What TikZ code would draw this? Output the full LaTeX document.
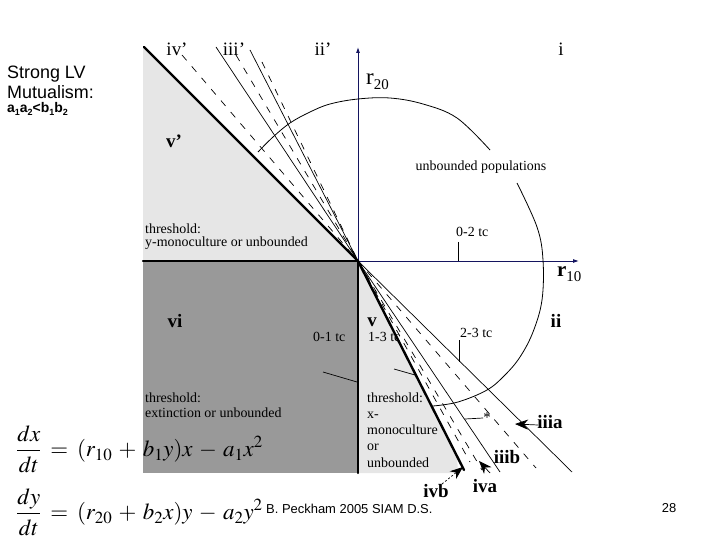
\documentclass[tikz,border=0pt]{standalone}
\usepackage{mathptmx}
\usepackage[no-math]{fontspec}
\setmainfont{Liberation Serif}
\newfontfamily\arial{Liberation Sans}
\usetikzlibrary{arrows.meta}
\definecolor{lightg}{RGB}{230,230,230}
\definecolor{darkg}{RGB}{153,153,153}
\definecolor{navy}{RGB}{20,20,95}
\tikzset{
  lab/.style={font=\fontsize{19}{19}\selectfont, inner sep=0pt, anchor=base},
  blab/.style={font=\fontsize{19}{19}\selectfont\bfseries, inner sep=0pt, anchor=base},
  small/.style={font=\fontsize{14}{14}\selectfont, inner sep=0pt, anchor=base west},
  thickline/.style={line width=2.4bp, line cap=round},
  thinline/.style={line width=0.7bp},
  dashline/.style={line width=0.7bp, dash pattern=on 7bp off 8bp},
  axisline/.style={draw=navy, line width=0.9bp, -{Latex[length=6bp,width=4bp]}},
  pointer/.style={line width=0.7bp, -{Stealth[length=13bp,width=10bp]}},
  eqn/.style={inner sep=0pt, anchor=west, font=\fontsize{23}{27}\selectfont},
}
\begin{document}
\begin{tikzpicture}[x=1bp, y=-1bp]
\useasboundingbox (0,0) rectangle (720,540);
% key points
\coordinate (O) at (358,261);
\coordinate (L1u) at (144,47);  \coordinate (L1d) at (572,472);
\coordinate (L2u) at (182,55);  \coordinate (L2d) at (536,468);
\coordinate (L3u) at (216,47);  \coordinate (L3d) at (500,472);
\coordinate (L4u) at (236,55);  \coordinate (L4d) at (482,470);
\coordinate (L5u) at (250,50);  \coordinate (L5d) at (464,470);
\coordinate (L6u) at (262,62);  \coordinate (L6d) at (470,462);
% regions
\fill[lightg] (143,47) -- (O) -- (143,261) -- cycle;
\fill[darkg] (143,261) rectangle (358,473);
\fill[lightg] (O) -- (358,473) -- (458,473) -- (457,455) -- cycle;
% axes
\draw[axisline] (O) -- (358,47);
\draw[axisline] (O) -- (579,261);
% lines through origin
\draw[thickline] (L1u) -- (O);
\draw[thinline] (O) -- (L1d);
\draw[dashline] (L2u) -- (O) -- (L2d);
\draw[thinline] (L3u) -- (O) -- (L3d);
\draw[dashline] (L4u) -- (O) -- (L4d);
\draw[thinline] (L5u) -- (O);
\draw[thickline] (O) -- (L5d);
\draw[dashline] (L6u) -- (O) -- (L6d);
% region borders
\draw[thickline] (143,261) -- (O) -- (358,473);
% circle-like arc
\draw[line width=0.8bp] plot[smooth, tension=0.6] coordinates {(258,152) (273,137) (290,123) (310,112) (330,104) (358,99) (390,98) (423,104) (457,118) (490,150)};
\draw[line width=0.8bp] plot[smooth, tension=0.6] coordinates {(517,183) (537,227) (543,260) (542,300) (533,332) (520,357) (505,375) (487,390) (458,402) (433,406)};
% top labels
\node[lab] (ivp) at (177,56) {iv’};
\node[lab] (iiip) at (234,56) {iii’};
\node[lab] (iip) at (323,56) {ii’};
\node[lab] (i) at (561,56) {i};
\node[blab] (vp) at (174,148) {v’};
\node[blab] (vi) at (175,327) {vi};
\node[blab] (v) at (372,326) {v};
\node[blab] (ii) at (556,327) {ii};
\node[blab] (iiib) at (507,463) {iiib};
\node[blab] (iiia) at (550,428) {iiia};
\node[blab] (iva) at (485,492) {iva};
\node[blab] (ivb) at (436,497) {ivb};
% axis labels
\node[inner sep=0pt, anchor=base west] (r20) at (366,85) {{\fontsize{23}{23}\selectfont r}\raisebox{-5bp}{\fontsize{15}{15}\selectfont 20}};
\node[inner sep=0pt, anchor=base west] (r10) at (557,277) {{\fontsize{21}{21}\selectfont\bfseries r}\raisebox{-5bp}{\fontsize{15}{15}\selectfont 10}};
% small labels
\node[small, anchor=base] (unb) at (481,171) {unbounded populations};
\node[small] (t02) at (456,237) {0-2 tc};
\node[small] (t23) at (460,337) {2-3 tc};
\node[small] (t13) at (368,341) {1-3 tc};
\node[small] (t01) at (313,341) {0-1 tc};
\node[small] (th1a) at (145,234) {threshold:};
\node[small] (th1b) at (145,247) {y-monoculture or unbounded};
\node[small] (th2a) at (145,402) {threshold:};
\node[small] (th2b) at (145,417) {extinction or unbounded};
\node[small] (th3a) at (367,402) {threshold:};
\node[small] (th3b) at (367,418) {x-};
\node[small] (th3c) at (367,434) {monoculture};
\node[small] (th3d) at (367,450) {or};
\node[small] (th3e) at (367,467) {unbounded};
\node[font=\fontsize{15}{15}\selectfont, inner sep=0pt] (star) at (487,418) {*};
% leaders
\coordinate (a02) at (458,261);
\draw[thinline] (458,242) -- (a02);
\coordinate (a23) at (459,362);
\draw[thinline] (459,340) -- (a23);
\coordinate (a13) at (415,375);
\draw[thinline] (394,369) -- (a13);
\coordinate (a01) at (357,382);
\draw[thinline] (323,372) -- (a01);
\coordinate (astar) at (465,419);
\draw[thinline] (astar) -- (star.west);
% pointers
\coordinate (tipa) at (515,424);
\draw[pointer] (538,425) -- (tipa);
\coordinate (tipiva) at (479,461);
\draw[pointer] (490,473) -- (tipiva);
\coordinate (tipivb) at (463,467);
\draw[pointer, dash pattern=on 2bp off 2bp] (442,484) -- (tipivb);
% left texts
\node[font=\arial\fontsize{18}{18}\selectfont, inner sep=0pt, anchor=base west] (strong) at (7,79) {Strong LV};
\node[font=\arial\fontsize{18}{18}\selectfont, inner sep=0pt, anchor=base west] (mutual) at (7,99) {Mutualism:};
\node[font=\arial\fontsize{14}{14}\selectfont\bfseries, inner sep=0pt, anchor=base west] (cond) at (7,113) {a\raisebox{-2.5bp}{\fontsize{9}{9}\selectfont 1}a\raisebox{-2.5bp}{\fontsize{9}{9}\selectfont 2}<b\raisebox{-2.5bp}{\fontsize{9}{9}\selectfont 1}b\raisebox{-2.5bp}{\fontsize{9}{9}\selectfont 2}};
% equations
\node[eqn] (eq1) at (16,449) {\thickmuskip=7mu\medmuskip=5mu$\displaystyle \frac{dx}{dt} = (r_{10}+b_1y)x-a_1x^2$};
\node[eqn] (eq2) at (16,512) {\thickmuskip=7mu\medmuskip=5mu$\displaystyle \frac{dy}{dt} = (r_{20}+b_2x)y-a_2y^2$};
% footer
\node[font=\arial\fontsize{13}{13}\selectfont, inner sep=0pt, anchor=base west] (foot) at (266,513) {B. Peckham 2005 SIAM D.S.};
\node[font=\arial\fontsize{13}{13}\selectfont, inner sep=0pt] (pg) at (669,508) {28};
\end{tikzpicture}
\end{document}
